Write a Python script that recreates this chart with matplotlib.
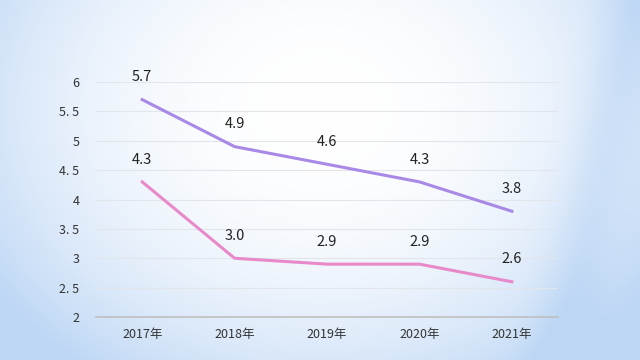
import numpy as np
import matplotlib
matplotlib.use("Agg")
from matplotlib import pyplot as plt

plt.rcParams['font.family'] = ['Noto Sans CJK SC', 'DejaVu Sans']

years = ['2017年', '2018年', '2019年', '2020年', '2021年']
purple_vals = [5.7, 4.9, 4.6, 4.3, 3.8]
pink_vals = [4.3, 3.0, 2.9, 2.9, 2.6]
ytick_vals = [2, 2.5, 3, 3.5, 4, 4.5, 5, 5.5, 6]
ytick_labels = ['2', '2. 5', '3', '3. 5', '4', '4. 5', '5', '5. 5', '6']

fig = plt.figure(figsize=(6.4, 3.6), dpi=100)

# background: pale blue gradient, whiter in the middle
bg = fig.add_axes([0, 0, 1, 1])
h, w = 360, 640
yy, xx = np.mgrid[0:h, 0:w]
xn = xx / w
yn = yy / h
d = np.sqrt(((xn - 0.5) / 0.62) ** 2 + ((yn - 0.3) / 0.9) ** 2)
t = np.clip(d, 0, 1) ** 2.2
# soft diagonal band on the right
band = np.exp(-(((xn - 0.93) + (yn - 0.5) * 0.12) / 0.05) ** 2) * 0.25
t = np.clip(t + band, 0, 1)
white = np.array([1.0, 1.0, 1.0])
blue = np.array([0.74, 0.84, 0.96])
img = white[None, None, :] * (1 - t[..., None]) + blue[None, None, :] * t[..., None]
bg.imshow(img, aspect='auto', extent=[0, 1, 0, 1], origin='upper')
bg.axis('off')

ax = fig.add_axes([0.15, 0.1194, 0.722, 0.6528])
ax.patch.set_alpha(0)
x = np.arange(len(years))

ax.plot(x, purple_vals, color='#a88ae6', lw=2.2)
ax.plot(x, pink_vals, color='#e889c9', lw=2.2)

for xi, v in zip(x, purple_vals):
    ax.annotate(f'{v:.1f}', (xi, v), xytext=(0, 11), textcoords='offset points',
                ha='center', va='bottom', fontsize=10.5, color='#222222')
for xi, v in zip(x, pink_vals):
    ax.annotate(f'{v:.1f}', (xi, v), xytext=(0, 11), textcoords='offset points',
                ha='center', va='bottom', fontsize=10.5, color='#222222')

ax.set_xlim(-0.5, len(years) - 0.5)
ax.set_ylim(2, 6)
ax.set_yticks(ytick_vals)
ax.set_yticklabels(ytick_labels)
ax.set_xticks(x)
ax.set_xticklabels(years)
ax.tick_params(axis='both', length=0, labelsize=9, colors='#333333')
ax.tick_params(axis='y', pad=12)
ax.tick_params(axis='x', pad=8)
ax.grid(axis='y', color='#e2e6ea', lw=0.8)
for s in ['top', 'right', 'left']:
    ax.spines[s].set_visible(False)
ax.spines['bottom'].set_color('#bfbfbf')
ax.spines['bottom'].set_linewidth(1.2)
ax.set_axisbelow(True)

fig.savefig('out.png', dpi=100)
